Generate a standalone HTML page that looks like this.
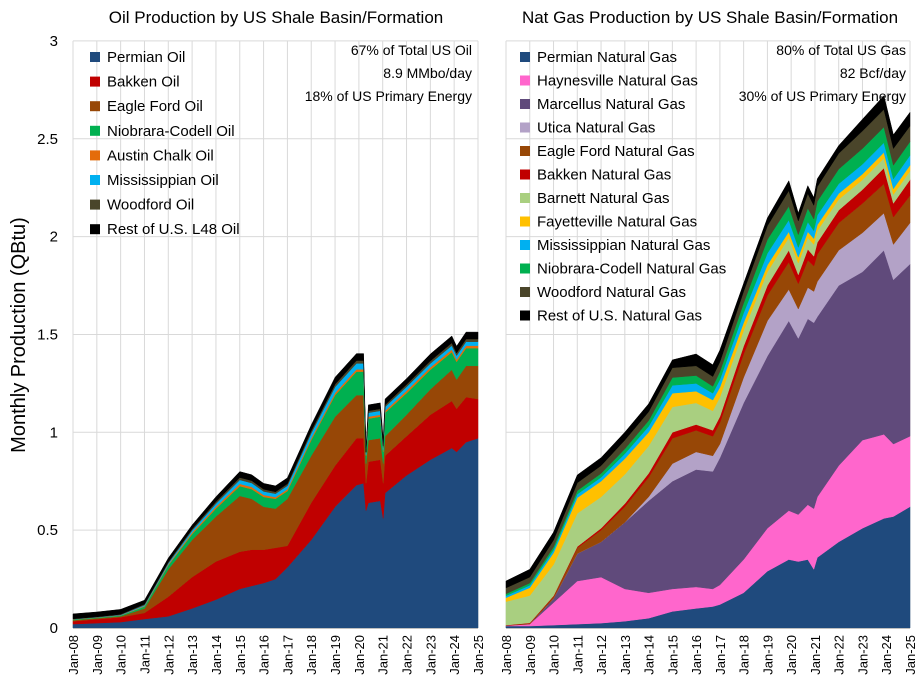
<!DOCTYPE html>
<html><head><meta charset="utf-8"><style>
html,body{margin:0;padding:0;background:#fff;}
svg{display:block;font-family:"Liberation Sans",Arial,sans-serif;}
</style></head><body>
<svg id="chart" width="920" height="687" viewBox="0 0 920 687" xmlns="http://www.w3.org/2000/svg">
<text x="276" y="23" font-size="17" text-anchor="middle" fill="#000">Oil Production by US Shale Basin/Formation</text>
<text x="710" y="23" font-size="17" text-anchor="middle" fill="#000">Nat Gas Production by US Shale Basin/Formation</text>
<text transform="translate(25,335) rotate(-90)" font-size="20" text-anchor="middle" fill="#000">Monthly Production (QBtu)</text>
<g id="oilPlot"></g>
<g id="gasPlot"></g>
<g font-size="14" text-anchor="end" fill="#000">
<text x="472" y="55">67% of Total US Oil</text><text x="472" y="78">8.9 MMbo/day</text><text x="472" y="101">18% of US Primary Energy</text></g>
<g font-size="14" text-anchor="end" fill="#000">
<text x="906" y="55">80% of Total US Gas</text><text x="906" y="78">82 Bcf/day</text><text x="906" y="101">30% of US Primary Energy</text></g>
</svg>
<script>
// ---- Oil data (per-layer QBtu) ----
const oilDates = [2008,2009,2010,2011,2012,2013,2014,2015,2015.5,2016,2016.5,2017,2018,2019,2019.9,2020.2,2020.3,2020.4,2020.9,2021.02,2021.1,2022,2023,2023.9,2024.1,2024.5,2025];
const oilPermian = [.02,.025,.03,.046,.06,.10,.145,.20,.215,.23,.25,.31,.45,.62,.73,.74,.60,.64,.65,.56,.69,.78,.86,.92,.90,.95,.97];
const oilBakken = [.015,.02,.025,.031,.10,.16,.195,.19,.185,.17,.16,.11,.19,.21,.24,.23,.14,.21,.21,.18,.19,.20,.23,.24,.22,.23,.20];
const oilEagleFord = [.005,.005,.005,.023,.14,.19,.23,.285,.26,.22,.20,.24,.24,.25,.22,.22,.10,.11,.11,.10,.10,.11,.13,.16,.15,.16,.17];
const oilNiobrara = [.003,.003,.004,.01,.02,.03,.04,.05,.05,.05,.05,.04,.08,.11,.12,.12,.04,.11,.11,.06,.12,.11,.10,.09,.09,.09,.09];
const oilAustinChalk = [.001,.001,.001,.003,.005,.008,.01,.012,.011,.01,.009,.009,.01,.012,.012,.012,.005,.01,.01,.008,.01,.012,.012,.013,.012,.013,.013];
const oilMississippian = [.001,.001,.002,.004,.006,.01,.015,.02,.02,.018,.017,.018,.025,.03,.03,.03,.01,.02,.02,.015,.02,.02,.02,.02,.02,.02,.02];
const oilWoodford = [.002,.002,.003,.005,.006,.008,.01,.012,.012,.011,.01,.01,.012,.014,.015,.015,.005,.01,.01,.008,.01,.012,.013,.014,.013,.014,.014];
const oilRest = [.025,.025,.025,.02,.02,.02,.025,.03,.03,.03,.03,.03,.03,.035,.035,.035,.02,.03,.03,.03,.03,.03,.035,.035,.035,.035,.035];
const oilNames = ["Permian Oil","Bakken Oil","Eagle Ford Oil","Niobrara-Codell Oil","Austin Chalk Oil","Mississippian Oil","Woodford Oil","Rest of U.S. L48 Oil"];
const oilColors = ["#1f4a7d","#c00000","#974706","#00b050","#e46c0a","#00b0f0","#4a452a","#000000"];

// ---- Gas data (per-layer QBtu) ----
const gasDates = [2008,2009,2010,2011,2012,2013,2014,2015,2016,2016.7,2017,2018,2019,2019.9,2020.3,2020.7,2020.95,2021.1,2022,2023,2023.9,2024.3,2025];
const gasPermian = [.01,.01,.015,.02,.025,.035,.05,.085,.10,.11,.12,.18,.29,.35,.34,.35,.30,.36,.44,.51,.56,.57,.62];
const gasHaynesville = [.002,.01,.115,.22,.235,.165,.13,.115,.11,.09,.10,.17,.22,.25,.24,.28,.31,.31,.39,.45,.43,.37,.36];
const gasMarcellus = [.001,0,.02,.14,.18,.34,.47,.55,.60,.60,.65,.80,.88,.97,.90,.95,.95,.92,.92,.86,.94,.84,.88];
const gasUtica = [0,0,0,0,0,0,.02,.09,.09,.08,.07,.13,.18,.16,.15,.16,.16,.18,.18,.20,.19,.18,.21];
const gasEagleFord = [0,.003,.01,.03,.06,.08,.10,.13,.11,.10,.11,.12,.13,.14,.13,.14,.13,.14,.14,.15,.15,.14,.14];
const gasBakken = [.002,.003,.004,.006,.01,.015,.02,.03,.03,.03,.03,.04,.05,.06,.045,.055,.05,.06,.065,.07,.08,.07,.08];
const gasBarnett = [.12,.14,.16,.17,.16,.15,.14,.13,.11,.10,.10,.08,.07,.065,.06,.06,.06,.06,.055,.05,.05,.045,.045];
const gasFayetteville = [.02,.04,.06,.08,.08,.08,.07,.07,.06,.055,.05,.04,.035,.03,.03,.03,.03,.03,.03,.03,.03,.03,.03];
const gasMississippian = [.01,.012,.015,.018,.02,.025,.03,.04,.04,.035,.04,.05,.06,.06,.05,.05,.04,.05,.05,.05,.05,.05,.05];
const gasNiobrara = [.01,.012,.015,.018,.02,.025,.03,.04,.04,.035,.04,.05,.07,.07,.065,.07,.06,.07,.075,.08,.08,.07,.07];
const gasWoodford = [.03,.03,.035,.04,.04,.045,.045,.05,.05,.05,.05,.06,.07,.08,.07,.075,.07,.075,.08,.09,.09,.085,.08];
const gasRest = [.035,.04,.04,.04,.04,.04,.04,.04,.06,.06,.06,.04,.04,.05,.04,.04,.04,.04,.04,.06,.07,.07,.07];
const gasNames = ["Permian Natural Gas","Haynesville Natural Gas","Marcellus Natural Gas","Utica Natural Gas","Eagle Ford Natural Gas","Bakken Natural Gas","Barnett Natural Gas","Fayetteville Natural Gas","Mississippian Natural Gas","Niobrara-Codell Natural Gas","Woodford Natural Gas","Rest of U.S. Natural Gas"];
const gasColors = ["#1f4a7d","#ff66cc","#604a7b","#b3a2c7","#974706","#c00000","#a9cf80","#ffc000","#00b0f0","#00b050","#4a452a","#000000"];

const yTicks = [0,0.5,1,1.5,2,2.5,3];
const yTickLabels = ["0","0.5","1","1.5","2","2.5","3"];
const xYears = [2008,2009,2010,2011,2012,2013,2014,2015,2016,2017,2018,2019,2020,2021,2022,2023,2024,2025];
const xLabels = ["Jan-08","Jan-09","Jan-10","Jan-11","Jan-12","Jan-13","Jan-14","Jan-15","Jan-16","Jan-17","Jan-18","Jan-19","Jan-20","Jan-21","Jan-22","Jan-23","Jan-24","Jan-25"];

const NS = "http://www.w3.org/2000/svg";
const Y0 = 628, YPX = 195.7;
function yScale(v){ return Y0 - v*YPX; }
function mk(tag, attrs, parent){ const e=document.createElementNS(NS,tag); for(const k in attrs) e.setAttribute(k,attrs[k]); parent.appendChild(e); return e; }

function drawPanel(g, x0, x1, dates, series, colors, names, showY, key, legX, legY, legStep){
  const xScale = yr => x0 + (yr-2008)/(2025-2008)*(x1-x0);
  yTicks.forEach((t,i)=>{
    if(t===0) return;
    const l = mk("line",{x1:x0,x2:x1,y1:yScale(t),y2:yScale(t),stroke:"#d9d9d9","stroke-width":1},g);
    
    
  });
  xYears.forEach((yr,i)=>{
    const l = mk("line",{x1:xScale(yr),x2:xScale(yr),y1:yScale(3),y2:Y0,stroke:"#d9d9d9","stroke-width":1},g);
    
    
    const lab = mk("text",{transform:`translate(${xScale(yr)+5},${Y0+7}) rotate(-90)`,"font-size":13,"text-anchor":"end",fill:"#000"},g);
    lab.textContent = xLabels[i];
    
    
  });
  if(showY){
    yTicks.forEach((t,i)=>{
      const lab = mk("text",{x:x0-15,y:yScale(t)+5,"font-size":15,"text-anchor":"end",fill:"#000"},g);
      lab.textContent = yTickLabels[i];
      
      
    });
  }
  const cum = dates.map(()=>0);
  series.forEach((s,si)=>{
    const lower = cum.slice();
    s.forEach((v,i)=>{ cum[i]+=v; });
    let d = "";
    dates.forEach((t,i)=>{ d += (i?"L":"M")+xScale(t).toFixed(1)+","+yScale(cum[i]).toFixed(1); });
    for(let i=dates.length-1;i>=0;i--) d += "L"+xScale(dates[i]).toFixed(1)+","+yScale(lower[i]).toFixed(1);
    d += "Z";
    const p = mk("path",{d:d,fill:colors[si],stroke:colors[si],"stroke-width":0.5},g);
    
    
  });
  const ax = mk("line",{x1:x0,x2:x1,y1:Y0+0.5,y2:Y0+0.5,stroke:"#bfbfbf","stroke-width":1},g);
  
  
  names.forEach((n,i)=>{
    const le = mk("g",{},g);
    
    
    const y = legY + i*legStep;
    mk("rect",{x:legX,y:y-5,width:10,height:10,fill:colors[i]},le);
    const tx = mk("text",{x:legX+17,y:y+5,"font-size":15,fill:"#000"},le);
    tx.textContent = n;
  });
}
drawPanel(document.getElementById("oilPlot"),73,478,oilDates,
  [oilPermian,oilBakken,oilEagleFord,oilNiobrara,oilAustinChalk,oilMississippian,oilWoodford,oilRest],
  oilColors,oilNames,true,"oil",90,57,24.6);
drawPanel(document.getElementById("gasPlot"),506,910,gasDates,
  [gasPermian,gasHaynesville,gasMarcellus,gasUtica,gasEagleFord,gasBakken,gasBarnett,gasFayetteville,gasMississippian,gasNiobrara,gasWoodford,gasRest],
  gasColors,gasNames,false,"gas",520,57,23.5);
</script>
</body></html>
